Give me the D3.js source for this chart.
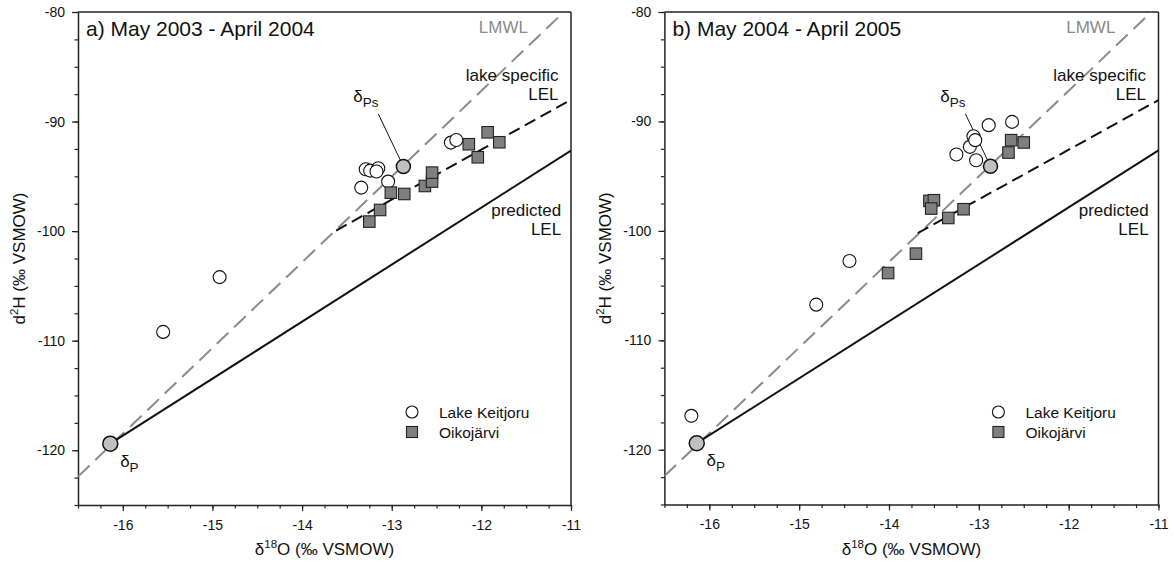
<!DOCTYPE html>
<html>
<head>
<meta charset="utf-8">
<script src="https://cdn.jsdelivr.net/npm/d3@7"></script>
<style>
  html, body { margin: 0; padding: 0; background: #fff; }
  svg { display: block; font-family: Arial, "Liberation Sans", Helvetica, sans-serif; }
</style>
</head>
<body>
<svg id="chart" width="1174" height="567"></svg>
<script>
// ---------- data ----------
const xTickValues = [-16, -15, -14, -13, -12, -11];
const yTickValues = [-80, -90, -100, -110, -120];
const xDomain = [-16.5, -11];
const yDomain = [-125, -80];

const panelTitles = ["a) May 2003 - April 2004", "b) May 2004 - April 2005"];
const seriesNames = ["Lake Keitjoru", "Oikojärvi"];

// Panel a
const aKeitjoruX = [-15.55, -14.92, -13.34, -13.29, -13.24, -13.15, -13.17, -13.04, -12.34, -12.28];
const aKeitjoruY = [-109.2, -104.2, -96.03, -94.35, -94.48, -94.26, -94.56, -95.48, -91.92, -91.68];
const aOikoX = [-13.25, -13.13, -13.01, -12.86, -12.63, -12.55, -12.55, -12.14, -12.04, -11.93, -11.80];
const aOikoY = [-99.13, -98.07, -96.49, -96.61, -95.88, -95.48, -94.66, -92.07, -93.26, -90.98, -91.89];

// Panel b
const bKeitjoruX = [-16.20, -14.81, -14.44, -13.25, -13.10, -13.06, -13.04, -13.03, -12.89, -12.63];
const bKeitjoruY = [-116.9, -106.74, -102.75, -93.02, -92.32, -91.35, -91.71, -93.54, -90.34, -90.04];
const bOikoX = [-14.01, -13.70, -13.55, -13.50, -13.53, -13.34, -13.17, -12.67, -12.64, -12.50];
const bOikoY = [-103.85, -102.08, -97.26, -97.20, -97.96, -98.82, -98.02, -92.84, -91.71, -91.92];

// reference points (delta P, delta Ps)
const deltaP = [-16.14, -119.4];
const deltaPs = [-12.87, -94.1];

// lines (endpoints)
const lmwlX = [-16.5, -11.08];
const lmwlY = [-122.4, -80];
const predictedLelX = [-16.14, -11];
const predictedLelY = [-119.4, -92.65];
const aLakeLelX = [-13.62, -11];
const aLakeLelY = [-99.95, -88.0];
const bLakeLelX = [-13.68, -11];
const bLakeLelY = [-100.2, -88.05];

// ---------- drawing ----------
const svg = d3.select("#chart");

const panels = [
  { left: 78, right: 571, top: 12, bottom: 505, title: panelTitles[0],
    kx: aKeitjoruX, ky: aKeitjoruY, ox: aOikoX, oy: aOikoY, lx: aLakeLelX, ly: aLakeLelY },
  { left: 664.4, right: 1158.5, top: 12, bottom: 504.5, title: panelTitles[1],
    kx: bKeitjoruX, ky: bKeitjoruY, ox: bOikoX, oy: bOikoY, lx: bLakeLelX, ly: bLakeLelY }
];

const axisColor = "#222";
const annSize = 17;

panels.forEach(p => {
  const x = d3.scaleLinear().domain(xDomain).range([p.left, p.right]);
  const y = d3.scaleLinear().domain(yDomain).range([p.bottom, p.top]);
  const g = svg.append("g");

  const clipId = "clip" + Math.round(p.left);
  svg.append("clipPath").attr("id", clipId).append("rect")
    .attr("x", p.left).attr("y", p.top).attr("width", p.right - p.left).attr("height", p.bottom - p.top);

  // minor ticks
  const xMinor = d3.range(-16.5, -10.99, 0.25);
  const yMinor = d3.range(-125, -79.99, 2.5);
  g.append("g").attr("transform", `translate(0,${p.bottom})`)
    .call(d3.axisBottom(x).tickValues(xMinor).tickSize(3.5).tickFormat(""))
    .call(a => a.select(".domain").remove())
    .call(a => a.selectAll("line").attr("stroke", axisColor).attr("stroke-width", 1.2));
  g.append("g").attr("transform", `translate(${p.left},0)`)
    .call(d3.axisLeft(y).tickValues(yMinor).tickSize(3.5).tickFormat(""))
    .call(a => a.select(".domain").remove())
    .call(a => a.selectAll("line").attr("stroke", axisColor).attr("stroke-width", 1.2));

  // major axes
  const xa = g.append("g").attr("transform", `translate(0,${p.bottom})`)
    .call(d3.axisBottom(x).tickValues(xTickValues).tickSize(6).tickSizeOuter(0).tickPadding(9).tickFormat(d3.format("d")));
  const ya = g.append("g").attr("transform", `translate(${p.left},0)`)
    .call(d3.axisLeft(y).tickValues(yTickValues).tickSize(6).tickSizeOuter(0).tickPadding(7).tickFormat(d3.format("d")));
  [xa, ya].forEach(a => {
    a.select(".domain").attr("stroke", axisColor).attr("stroke-width", 1.5);
    a.selectAll("line").attr("stroke", axisColor).attr("stroke-width", 1.2);
    a.selectAll("text").attr("font-size", 14).attr("fill", "#111")
      .attr("font-family", 'Arial, "Liberation Sans", sans-serif')
      .text(d => String(d));
  });

  // frame top/right
  g.append("line").attr("x1", p.left).attr("x2", p.right).attr("y1", p.top).attr("y2", p.top)
    .attr("stroke", axisColor).attr("stroke-width", 1.5);
  g.append("line").attr("x1", p.right).attr("x2", p.right).attr("y1", p.top).attr("y2", p.bottom)
    .attr("stroke", axisColor).attr("stroke-width", 1.5);

  // axis titles
  const xt = g.append("text").attr("x", (p.left + p.right) / 2).attr("y", 555)
    .attr("text-anchor", "middle").attr("font-size", 17).attr("fill", "#111");
  xt.append("tspan").text("δ");
  xt.append("tspan").attr("font-size", 11.5).attr("dy", -7).text("18");
  xt.append("tspan").attr("dy", 7).text("O (‰ VSMOW)");

  const yt = g.append("text")
    .attr("transform", `translate(${p.left - 53},${(p.top + p.bottom) / 2}) rotate(-90)`)
    .attr("text-anchor", "middle").attr("font-size", 17).attr("fill", "#111");
  yt.append("tspan").text("d");
  yt.append("tspan").attr("font-size", 11.5).attr("dy", -7).text("2");
  yt.append("tspan").attr("dy", 7).text("H (‰ VSMOW)");

  // title
  g.append("text").attr("x", p.left + 8).attr("y", 36).attr("font-size", 21).attr("fill", "#111").text(p.title);

  const plot = g.append("g").attr("clip-path", `url(#${clipId})`);
  const line = d3.line().x(d => x(d[0])).y(d => y(d[1]));

  // LMWL
  plot.append("path").datum(d3.zip(lmwlX, lmwlY)).attr("d", line)
    .attr("fill", "none").attr("stroke", "#8a8a8a").attr("stroke-width", 2).attr("stroke-dasharray", "16,8");
  // predicted LEL
  plot.append("path").datum(d3.zip(predictedLelX, predictedLelY)).attr("d", line)
    .attr("fill", "none").attr("stroke", "#111").attr("stroke-width", 2);
  // lake specific LEL
  plot.append("path").datum(d3.zip(p.lx, p.ly)).attr("d", line)
    .attr("fill", "none").attr("stroke", "#111").attr("stroke-width", 2).attr("stroke-dasharray", "12,6");

  // line labels
  g.append("text").attr("x", x(-11.48)).attr("y", y(-81.9)).attr("text-anchor", "end")
    .attr("font-size", annSize).attr("fill", "#8a8a8a").text("LMWL");
  g.append("text").attr("x", x(-11.14)).attr("y", y(-86.3)).attr("text-anchor", "end")
    .attr("font-size", annSize).attr("fill", "#111").text("lake specific");
  g.append("text").attr("x", x(-11.14)).attr("y", y(-88.0)).attr("text-anchor", "end")
    .attr("font-size", annSize).attr("fill", "#111").text("LEL");
  g.append("text").attr("x", x(-11.11)).attr("y", y(-98.6)).attr("text-anchor", "end")
    .attr("font-size", annSize).attr("fill", "#111").text("predicted");
  g.append("text").attr("x", x(-11.11)).attr("y", y(-100.35)).attr("text-anchor", "end")
    .attr("font-size", annSize).attr("fill", "#111").text("LEL");

  // leader to delta Ps
  const lbl = [-13.43, -88.2];
  const lead0 = [-13.15, -89.3];
  const sx = x(lead0[0]), sy = y(lead0[1]);
  const ex = x(deltaPs[0]), ey = y(deltaPs[1]);
  const len = Math.hypot(ex - sx, ey - sy);
  plot.append("line").attr("x1", sx).attr("y1", sy)
    .attr("x2", ex - (ex - sx) / len * 7).attr("y2", ey - (ey - sy) / len * 7)
    .attr("stroke", "#111").attr("stroke-width", 1);

  const tps = g.append("text").attr("x", x(lbl[0])).attr("y", y(lbl[1])).attr("font-size", 17).attr("fill", "#111");
  tps.append("tspan").text("δ");
  tps.append("tspan").attr("font-size", 13.5).attr("dy", 5).text("Ps");

  const tp = g.append("text").attr("x", x(-16.03)).attr("y", y(-121.5)).attr("font-size", 17).attr("fill", "#111");
  tp.append("tspan").text("δ");
  tp.append("tspan").attr("font-size", 13.5).attr("dy", 5).text("P");

  // markers
  plot.selectAll("circle.k").data(d3.zip(p.kx, p.ky)).join("circle").attr("class", "k")
    .attr("cx", d => x(d[0])).attr("cy", d => y(d[1])).attr("r", 6.5)
    .attr("fill", "#fff").attr("stroke", "#111").attr("stroke-width", 1.1);
  const s = 11.5;
  plot.selectAll("rect.o").data(d3.zip(p.ox, p.oy)).join("rect").attr("class", "o")
    .attr("x", d => x(d[0]) - s / 2).attr("y", d => y(d[1]) - s / 2).attr("width", s).attr("height", s)
    .attr("fill", "#7f7f7f").attr("stroke", "#222").attr("stroke-width", 1.1);
  plot.selectAll("circle.ref").data([deltaP, deltaPs]).join("circle").attr("class", "ref")
    .attr("cx", d => x(d[0])).attr("cy", d => y(d[1])).attr("r", (d, i) => i === 0 ? 7.5 : 7)
    .attr("fill", "#c0c0c0").attr("stroke", "#111").attr("stroke-width", 1.5);

  // legend
  const lg = g.append("g").attr("transform", `translate(${p.left + 334},${p.top + 400})`);
  lg.append("circle").attr("cx", 0).attr("cy", 0).attr("r", 6)
    .attr("fill", "#fff").attr("stroke", "#111").attr("stroke-width", 1.1);
  lg.append("rect").attr("x", -5.5).attr("y", 20 - 5.5).attr("width", 11).attr("height", 11)
    .attr("fill", "#7f7f7f").attr("stroke", "#222").attr("stroke-width", 1.1);
  lg.append("text").attr("x", 27).attr("y", 5.5).attr("font-size", 15.5).attr("fill", "#111").text(seriesNames[0]);
  lg.append("text").attr("x", 27).attr("y", 25.5).attr("font-size", 15.5).attr("fill", "#111").text(seriesNames[1]);
});
</script>
</body>
</html>
